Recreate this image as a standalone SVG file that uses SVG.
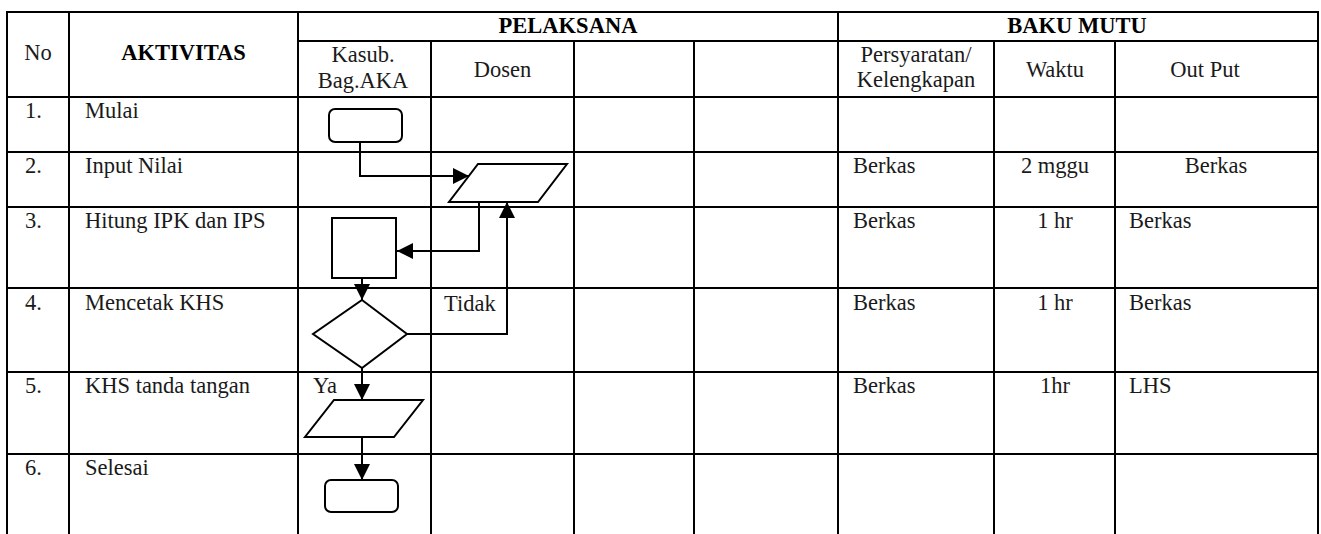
<svg xmlns="http://www.w3.org/2000/svg" width="1321" height="534" viewBox="0 0 1321 534">
<style>
.grid line{stroke:#000;stroke-width:2}
text{font-family:"Liberation Serif","Times New Roman",serif;font-size:22.5px;fill:#1a1a1a}
.b{font-weight:bold;fill:#000}
.m{text-anchor:middle}
.shape{fill:#fff;stroke:#000;stroke-width:2}
.conn{fill:none;stroke:#000;stroke-width:2}
</style>
<defs>
<marker id="arr" markerUnits="userSpaceOnUse" markerWidth="18" markerHeight="18" refX="16" refY="9" orient="auto" overflow="visible">
<path d="M0,1 L16,9 L0,17 z" fill="#000"/>
</marker>
</defs>
<rect width="1321" height="534" fill="#fff"/>
<g id="table" class="grid">
<line x1="6" y1="12" x2="1319" y2="12"/>
<line x1="298" y1="41" x2="1319" y2="41"/>
<line x1="6" y1="97" x2="1319" y2="97"/>
<line x1="6" y1="152" x2="1319" y2="152"/>
<line x1="6" y1="207" x2="1319" y2="207"/>
<line x1="6" y1="288" x2="1319" y2="288"/>
<line x1="6" y1="372" x2="1319" y2="372"/>
<line x1="6" y1="454" x2="1319" y2="454"/>
<line x1="7" y1="12" x2="7" y2="534"/>
<line x1="69" y1="12" x2="69" y2="534"/>
<line x1="298" y1="12" x2="298" y2="534"/>
<line x1="431" y1="41" x2="431" y2="534"/>
<line x1="574" y1="41" x2="574" y2="534"/>
<line x1="694" y1="41" x2="694" y2="534"/>
<line x1="838" y1="12" x2="838" y2="534"/>
<line x1="994" y1="41" x2="994" y2="534"/>
<line x1="1115" y1="41" x2="1115" y2="534"/>
<line x1="1318" y1="12" x2="1318" y2="534"/>
</g>
<g id="headers">
<text class="m" x="38" y="60">No</text>
<text class="m b" x="183.5" y="60">AKTIVITAS</text>
<text class="m b" x="568" y="33">PELAKSANA</text>
<text class="m b" x="1077" y="33">BAKU MUTU</text>
<text class="m" x="363" y="62">Kasub.</text>
<text class="m" x="363" y="88">Bag.AKA</text>
<text class="m" x="502.5" y="77">Dosen</text>
<text class="m" x="916" y="62">Persyaratan/</text>
<text class="m" x="916" y="87">Kelengkapan</text>
<text class="m" x="1055" y="77">Waktu</text>
<text class="m" x="1205" y="77">Out Put</text>
</g>
<g id="rows">
<text x="25" y="118">1.</text><text x="85" y="118">Mulai</text>
<text x="25" y="173">2.</text><text x="85" y="173">Input Nilai</text>
<text x="25" y="228">3.</text><text x="85" y="228">Hitung IPK dan IPS</text>
<text x="25" y="310">4.</text><text x="85" y="310">Mencetak KHS</text>
<text x="25" y="393">5.</text><text x="85" y="393">KHS tanda tangan</text>
<text x="25" y="475">6.</text><text x="85" y="475">Selesai</text>
<text x="853" y="173">Berkas</text><text class="m" x="1055" y="173">2 mggu</text><text class="m" x="1216" y="173">Berkas</text>
<text x="853" y="228">Berkas</text><text class="m" x="1055" y="228">1 hr</text><text x="1129" y="228">Berkas</text>
<text x="853" y="310">Berkas</text><text class="m" x="1055" y="310">1 hr</text><text x="1129" y="310">Berkas</text>
<text x="853" y="393">Berkas</text><text class="m" x="1055" y="393">1hr</text><text x="1129" y="393">LHS</text>
</g>
<g id="connectors">
<polyline class="conn" points="360,142 360,176 469,176" marker-end="url(#arr)"/>
<polyline class="conn" points="479,202 479,251 397,251" marker-end="url(#arr)"/>
<polyline class="conn" points="362,278 362,300" marker-end="url(#arr)"/>
<polyline class="conn" points="407,334 507,334 507,202" marker-end="url(#arr)"/>
<polyline class="conn" points="362,368 362,400" marker-end="url(#arr)"/>
<polyline class="conn" points="362,437 362,480" marker-end="url(#arr)"/>
<text x="444" y="311">Tidak</text>
<text x="313" y="393">Ya</text>
</g>
<g id="n-mulai"><rect class="shape" x="329" y="109" width="73" height="33" rx="6"/></g>
<g id="n-input"><polygon class="shape" points="478,164 567,164 538,202 449,202"/></g>
<g id="n-hitung"><rect class="shape" x="332" y="218" width="64" height="60"/></g>
<g id="n-decision"><polygon class="shape" points="362,300 407,334 362,368 313,334"/></g>
<g id="n-ttd"><polygon class="shape" points="334,400 423,400 394,437 305,437"/></g>
<g id="n-selesai"><rect class="shape" x="325" y="480" width="73" height="32" rx="6"/></g>
</svg>
